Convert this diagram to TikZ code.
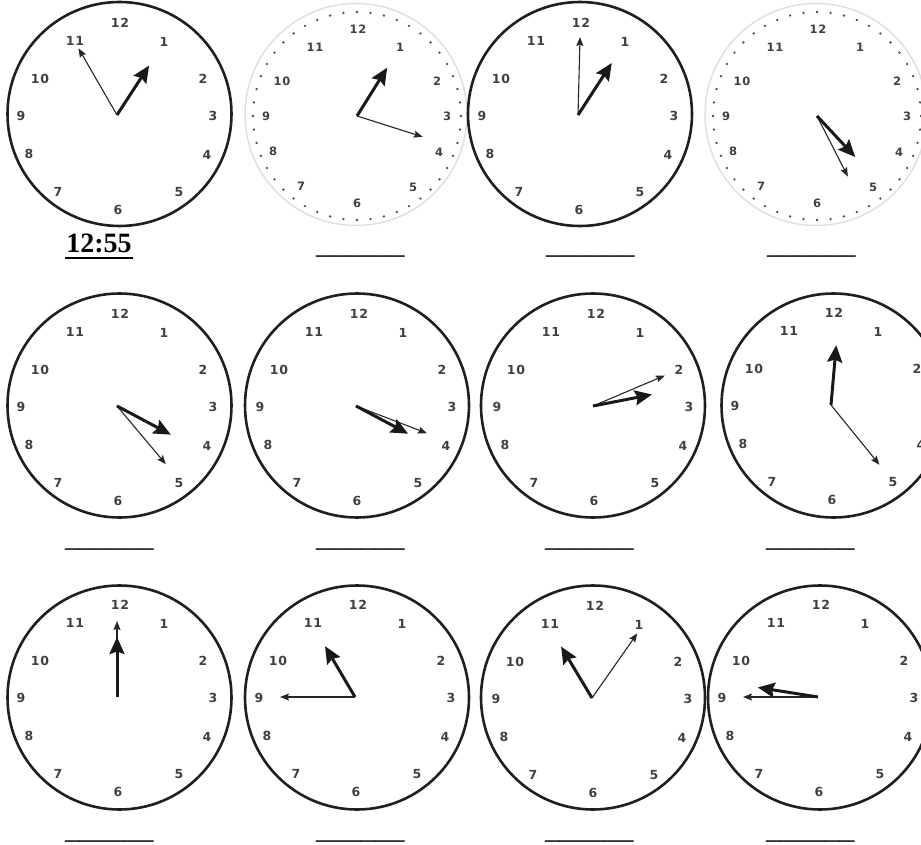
\documentclass[tikz,border=0pt]{standalone}
\usepackage{fontspec}
\setmainfont{Liberation Serif}
\newfontfamily\clockfont{DejaVu Sans}[LetterSpace=6]
\usetikzlibrary{arrows.meta,calc}
\tikzset{
  rimsolid/.style={circle, draw=black!88, line width=2.6pt, minimum size=224pt, inner sep=0pt},
  rimlight/.style={circle, draw=black!12, line width=1.5pt, minimum size=222pt, inner sep=0pt},
  num/.style={font=\clockfont\bfseries\fontsize{12.5}{12.5}\selectfont, text=black!75, inner sep=0pt},
  numsmall/.style={font=\clockfont\bfseries\fontsize{11.5}{11.5}\selectfont, text=black!75, inner sep=0pt},
  hourhand/.style={draw=black!90, line width=3pt, -{Stealth[length=17pt,width=15pt,inset=2.5pt]}},
  minhand/.style={draw=black!85, line width=1.1pt, -{Stealth[length=9pt,width=7pt,inset=1.5pt]}},
  dotc/.style={fill=black!70},
  blank/.style={font=\fontsize{29.5}{30}\selectfont, inner sep=0pt, anchor=base west},
  answer/.style={font=\bfseries\fontsize{28}{28}\selectfont, inner sep=0pt, anchor=base}
}
% #1 id, #2 hx, #3 hy, #4 rim dx, #5 rim dy, #6 hour angle, #7 hour len, #8 min angle, #9 min len
\newcommand\clockSolid[9]{%
  \coordinate (c#1) at (#2,#3);
  \node[rimsolid] (r#1) at ($(c#1)+(#4,#5)$) {};
  \foreach \k/\dx/\dy in {12/3/-92,1/47/-73,2/86/-36,3/96/1,4/90/40,5/62/77,6/1/95,7/-59/77,8/-88/39,9/-96/1,10/-77/-36,11/-42/-74}
    {\node[num] (n#1-\k) at ($(c#1)+(\dx,\dy)$) {\k};}
  \coordinate (m#1) at ($(c#1)+({#9*sin(#8)},{-#9*cos(#8)})$);
  \coordinate (h#1) at ($(c#1)+({#7*sin(#6)},{-#7*cos(#6)})$);
  \draw[minhand] (c#1) -- (m#1);
  \draw[hourhand] (c#1) -- (h#1);
}
\newcommand\clockDotted[9]{%
  \coordinate (c#1) at (#2,#3);
  \node[rimlight] (r#1) at ($(c#1)+(#4,#5)$) {};
  \foreach \a in {0,7.5,...,352.5}
    {\fill[dotc] ($(c#1)+({104*sin(\a)},{-104*cos(\a)})$) circle (1.3);}
  \foreach \k/\dx/\dy in {12/1/-87,1/43/-69,2/80/-35,3/90/0,4/82/36,5/56/71,6/0/87,7/-56/70,8/-84/35,9/-91/0,10/-75/-35,11/-42/-69}
    {\node[numsmall] (n#1-\k) at ($(c#1)+(\dx,\dy)$) {\k};}
  \coordinate (m#1) at ($(c#1)+({#9*sin(#8)},{-#9*cos(#8)})$);
  \coordinate (h#1) at ($(c#1)+({#7*sin(#6)},{-#7*cos(#6)})$);
  \draw[minhand] (c#1) -- (m#1);
  \draw[hourhand] (c#1) -- (h#1);
}
\begin{document}
\begin{tikzpicture}[x=1pt,y=-1pt]
  \useasboundingbox (0,0) rectangle (921,845);
  \fill[white] (0,0) rectangle (921,845);
  \clip (0,0) rectangle (921,845);
  % row 1
  \clockSolid{1}{117}{115}{2.5}{-1}{33}{59}{-30}{77}
  \clockDotted{2}{357}{116}{-1}{-1.5}{32}{57}{107.6}{69}
  \clockSolid{3}{578}{115}{2}{-1}{33}{62}{1.5}{78}
  \clockDotted{4}{817}{116}{-1}{-1.5}{137}{56}{153}{68}
  % row 2
  \clockSolid{5}{117}{406}{2.5}{-0.5}{118}{61}{140}{76}
  \clockSolid{6}{356}{406}{1}{-0.5}{118}{59}{111}{76}
  \clockSolid{7}{593}{406}{0}{-0.5}{79}{60}{67}{78}
  \clockSolid{8}{831}{405}{2.5}{0.5}{5}{60}{141}{77}
  % row 3
  \clockSolid{9}{117}{697}{2.5}{0.5}{0}{60}{0}{76}
  \clockSolid{10}{355}{697}{2}{0.5}{329.5}{59}{270}{75}
  \clockSolid{11}{592}{698}{1}{-0.5}{329}{60}{35}{79}
  \clockSolid{12}{818}{697}{2}{0.5}{279}{61}{270}{75}
  % answers
  \node[answer] (ans1) at (99,253) {12:55};
  \draw[line width=1.8pt] ($(ans1.base west)+(-1,5)$) -- ($(ans1.base east)+(1,5)$);
  \node[blank] (b2) at (316,254) {\_\_\_\_\_\_};
  \node[blank] (b3) at (546,254) {\_\_\_\_\_\_};
  \node[blank] (b4) at (767,254) {\_\_\_\_\_\_};
  \node[blank] (b5) at (65,546) {\_\_\_\_\_\_};
  \node[blank] (b6) at (316,546) {\_\_\_\_\_\_};
  \node[blank] (b7) at (545,546) {\_\_\_\_\_\_};
  \node[blank] (b8) at (766,546) {\_\_\_\_\_\_};
  \node[blank] (b9) at (65,838) {\_\_\_\_\_\_};
  \node[blank] (b10) at (316,838) {\_\_\_\_\_\_};
  \node[blank] (b11) at (545,838) {\_\_\_\_\_\_};
  \node[blank] (b12) at (766,838) {\_\_\_\_\_\_};
\end{tikzpicture}
\end{document}
